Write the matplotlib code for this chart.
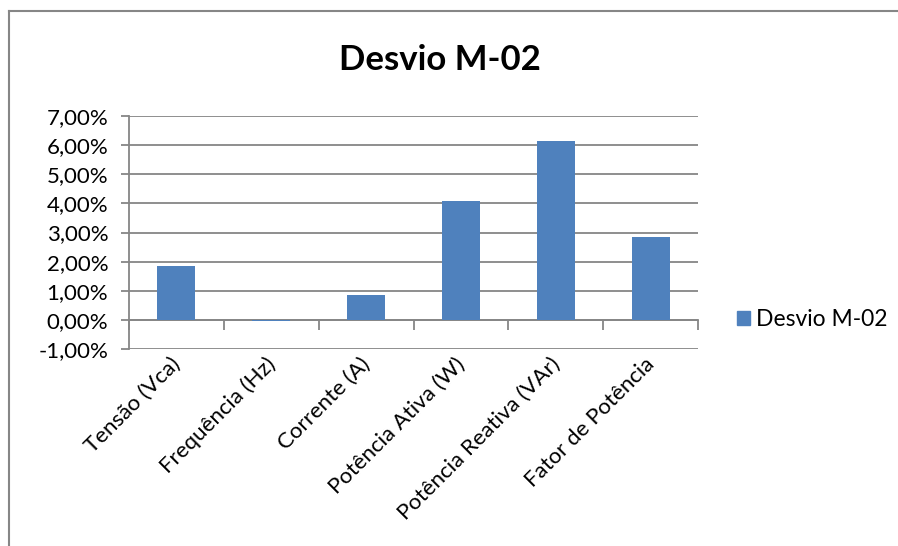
import matplotlib
matplotlib.use("Agg")
import matplotlib.pyplot as plt
from matplotlib.lines import Line2D
from matplotlib.patches import Patch
from matplotlib.ticker import FixedLocator, FuncFormatter
import matplotlib.transforms as mtransforms

# data (percent)
categories = ["Tensão (Vca)", "Frequência (Hz)", "Corrente (A)",
              "Potência Ativa (W)", "Potência Reativa (VAr)", "Fator de Potência"]
desvio_m02 = [1.86, -0.05, 0.85, 4.08, 6.15, 2.84]
y_ticks = [-1, 0, 1, 2, 3, 4, 5, 6, 7]

bar_color = "#4F81BD"
grid_color = "#868686"

plt.rcParams["font.family"] = ["Lato", "DejaVu Sans"]

fig = plt.figure(figsize=(8.98, 5.46), dpi=100)
ax = fig.add_axes([129 / 898, 1 - 349 / 546, (698 - 129) / 898, (349 - 116) / 546])

x = list(range(len(categories)))
ax.bar(x, desvio_m02, width=0.4, color=bar_color, zorder=3)

ax.set_xlim(-0.5, len(categories) - 0.5)
ax.set_ylim(-1, 7)
ax.set_yticks(y_ticks)
ax.yaxis.set_major_formatter(FuncFormatter(lambda v, p: f"{v:.2f}%".replace(".", ",")))
ax.yaxis.grid(True, color=grid_color, linewidth=1.3, zorder=0)
ax.tick_params(axis="y", length=6, width=1.3, color=grid_color, labelsize=16, pad=9)

# category axis sits on the zero line, ticks between categories
for s in ["top", "right"]:
    ax.spines[s].set_visible(False)
ax.spines["left"].set_color(grid_color)
ax.spines["left"].set_linewidth(1.3)
ax.spines["bottom"].set_position(("data", 0))
ax.spines["bottom"].set_color(grid_color)
ax.spines["bottom"].set_linewidth(1.3)
ax.xaxis.set_major_locator(FixedLocator([i - 0.5 for i in range(len(categories) + 1)]))
ax.tick_params(axis="x", length=7, width=1.3, color=grid_color, labelbottom=False)

offset = mtransforms.ScaledTranslation(1 / 100, -12 / 100, fig.dpi_scale_trans)
for i, lab in enumerate(categories):
    ax.text(i, -1, lab, rotation=45, rotation_mode="anchor", ha="right", va="center",
            fontsize=16, transform=ax.transData + offset)

fig.text(440 / 898, 1 - 60 / 546, "Desvio M-02", ha="center", va="center",
         fontsize=25, fontweight="bold")

fig.legend(handles=[Patch(color=bar_color, label="Desvio M-02")],
           loc="center left", bbox_to_anchor=(737 / 898, 1 - 320 / 546),
           frameon=False, fontsize=16.5, handlelength=0.55, handleheight=0.55,
           handletextpad=0.3, borderpad=0, borderaxespad=0)

# chart border
fig.add_artist(Line2D([9 / 898, 1], [1 - 11 / 546] * 2, color=grid_color, linewidth=1.5))
fig.add_artist(Line2D([9 / 898] * 2, [0, 1 - 11 / 546], color=grid_color, linewidth=1.5))

fig.savefig("out.png", dpi=100)
